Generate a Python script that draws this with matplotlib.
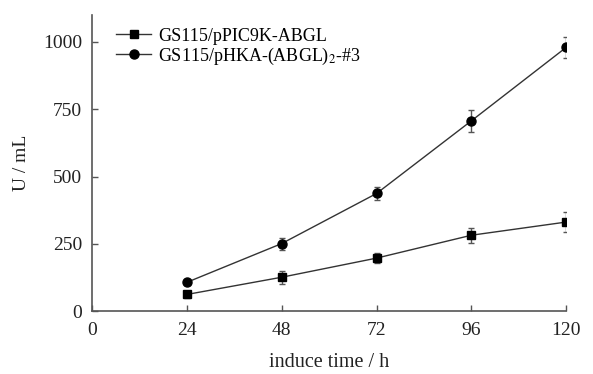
import matplotlib.pyplot as plt

plt.rcParams['font.family'] = ['Liberation Serif', 'DejaVu Serif']
plt.rcParams['mathtext.fontset'] = 'stix'

hours = [24, 48, 72, 96, 120]
pic9k = [62, 126, 197, 282, 331]
pic9k_err = [12, 25, 18, 28, 38]
phka = [107, 251, 437, 707, 980]
phka_err = [10, 22, 25, 40, 40]

fig = plt.figure(figsize=(5.93, 3.74), dpi=100)
ax = fig.add_axes([0.155, 0.168, 0.80, 0.792])

eb1 = ax.errorbar(hours, pic9k, yerr=pic9k_err, color='#333333', lw=1, marker='s', ms=5.5,
                  mfc='black', mec='black', capsize=2.5, elinewidth=1, ecolor='#555555')
eb2 = ax.errorbar(hours, phka, yerr=phka_err, color='#333333', lw=1, marker='o', ms=6.5,
                  mfc='black', mec='black', capsize=2.5, elinewidth=1, ecolor='#555555')

ax.set_xlim(0, 120)
ax.set_ylim(0, 1100)
ax.set_xticks([0, 24, 48, 72, 96, 120])
ax.set_yticks([0, 250, 500, 750, 1000])
ax.spines['top'].set_visible(False)
ax.spines['right'].set_visible(False)
for s in ['left', 'bottom']:
    ax.spines[s].set_color('#555555')
    ax.spines[s].set_linewidth(1.2)
ax.tick_params(direction='in', length=4, width=1, colors='#555555',
               labelcolor='#222222', labelsize=14)
ax.tick_params(axis='x', pad=8)
ax.tick_params(axis='y', pad=7)

ax.set_xlabel('induce time / h', fontsize=14.5, color='#222222')
ax.set_ylabel('U / mL', fontsize=14, color='#222222')
ax.xaxis.set_label_coords(0.5, -0.14)
ax.yaxis.set_label_coords(-0.13, 0.5)

ax.legend([eb1.lines[0], eb2.lines[0]],
          ['GS115/pPIC9K-ABGL', 'GS115/pHKA-(ABGL)$_2$-#3'],
          loc='upper left', bbox_to_anchor=(0.025, 1.0), frameon=False, fontsize=13,
          handlelength=1.9, handletextpad=0.4, labelspacing=0.05, borderaxespad=0.3)

plt.savefig('out.png', dpi=100)
